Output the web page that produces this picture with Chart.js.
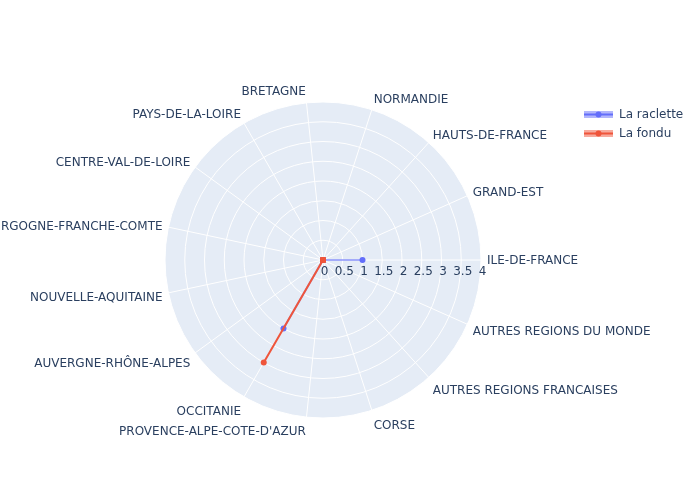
<!DOCTYPE html>
<html>
<head>
<meta charset="utf-8">
<script src="https://cdn.jsdelivr.net/npm/chart.js@4/dist/chart.umd.min.js"></script>
<style>
  html, body { margin: 0; padding: 0; background: #ffffff; }
  #wrap { width: 700px; height: 500px; }
</style>
</head>
<body>
<div id="wrap"><canvas id="c" width="700" height="500"></canvas></div>
<script>
// ---- data ----
const categories = [
  'ILE-DE-FRANCE', 'GRAND-EST', 'HAUTS-DE-FRANCE', 'NORMANDIE', 'BRETAGNE',
  'PAYS-DE-LA-LOIRE', 'CENTRE-VAL-DE-LOIRE', 'BOURGOGNE-FRANCHE-COMTE',
  'NOUVELLE-AQUITAINE', 'AUVERGNE-RHÔNE-ALPES', 'OCCITANIE',
  "PROVENCE-ALPE-COTE-D'AZUR", 'CORSE', 'AUTRES REGIONS FRANCAISES',
  'AUTRES REGIONS DU MONDE'
];
const seriesNames = ['La raclette', 'La fondu'];
const raclette = [1, 0, 0, 0, 0, 0, 0, 0, 0, 0, 2, 0, 0, 0, 0];
const fondu    = [0, 0, 0, 0, 0, 0, 0, 0, 0, 0, 3, 0, 0, 0, 0];
const radialTicks = [0, 0.5, 1, 1.5, 2, 2.5, 3, 3.5, 4];

// Plotly draws categories counter-clockwise from east; Chart.js goes clockwise,
// so the order is reversed (keeping the first category at east).
const order = [0].concat(categories.map((_, i) => i).slice(1).reverse());
const chartLabels = order.map(i => categories[i]);
const racletteData = order.map(i => raclette[i]);
const fonduData = order.map(i => fondu[i]);

const FONT = '"DejaVu Sans", Verdana, sans-serif';
const TEXT = '#2a3f5f';
const BLUE = '#636efa';
const RED = '#EF553B';
const PAD = 6;

const overlay = {
  id: 'overlay',
  afterDraw(chart) {
    const s = chart.scales.r;
    const ctx = chart.ctx;
    ctx.save();
    ctx.font = '12px ' + FONT;
    ctx.fillStyle = TEXT;
    // angular (category) labels, placed like plotly
    chart.data.labels.forEach((lab, i) => {
      const p = s.getPointPosition(i, s.drawingArea);
      const a = s.getIndexAngle(i) - Math.PI / 2;
      const c = Math.cos(a), sn = -Math.sin(a);
      const ff = sn > 0 ? 0.2 : 1;
      const x = p.x + c * PAD;
      const y = p.y - sn * (PAD + 12 * ff) + Math.abs(c) * 12 * 0.35;
      ctx.textAlign = Math.abs(c) < 0.1 ? 'center' : (c > 0 ? 'left' : 'right');
      ctx.textBaseline = 'alphabetic';
      ctx.fillText(lab, x, y);
    });
    // radial tick labels along the first (east) spoke
    ctx.textAlign = 'center';
    ctx.textBaseline = 'middle';
    radialTicks.forEach(v => {
      const p = s.getPointPositionForValue(0, v);
      ctx.fillText(String(v), p.x + 1.5, p.y + 12);
    });
    // legend
    const items = [
      {name: seriesNames[0], color: BLUE, band: 'rgba(99,110,250,0.5)'},
      {name: seriesNames[1], color: RED, band: 'rgba(239,85,59,0.5)'}
    ];
    items.forEach((it, k) => {
      const cy = 114.5 + k * 19;
      ctx.fillStyle = it.band;
      ctx.fillRect(584, cy - 3.5, 29, 7);
      ctx.strokeStyle = it.color;
      ctx.lineWidth = 2;
      ctx.beginPath();
      ctx.moveTo(584, cy);
      ctx.lineTo(613, cy);
      ctx.stroke();
      ctx.fillStyle = it.color;
      ctx.beginPath();
      ctx.arc(598.5, cy, 3, 0, Math.PI * 2);
      ctx.fill();
      ctx.fillStyle = TEXT;
      ctx.textAlign = 'left';
      ctx.textBaseline = 'middle';
      ctx.fillText(it.name, 619, cy);
    });
    ctx.restore();
  }
};

new Chart(document.getElementById('c'), {
  type: 'radar',
  data: {
    labels: chartLabels,
    datasets: [
      {
        label: seriesNames[0],
        data: racletteData,
        borderColor: 'rgba(99,110,250,0.55)',
        borderWidth: 2,
        pointBackgroundColor: BLUE,
        pointBorderColor: BLUE,
        pointBorderWidth: 0,
        pointRadius: 3,
        fill: false,
        tension: 0,
        order: 1
      },
      {
        label: seriesNames[1],
        data: fonduData,
        borderColor: RED,
        borderWidth: 2,
        pointBackgroundColor: RED,
        pointBorderColor: RED,
        pointBorderWidth: 0,
        pointRadius: 3,
        fill: false,
        tension: 0,
        order: 0
      }
    ]
  },
  options: {
    responsive: false,
    animation: false,
    devicePixelRatio: 1,
    layout: { padding: { left: 165, top: 102, right: 218, bottom: 82 } },
    plugins: { legend: { display: false }, tooltip: { enabled: false } },
    scales: {
      r: {
        min: 0,
        max: 4,
        startAngle: 90,
        backgroundColor: '#E5ECF6',
        ticks: { display: false, stepSize: 0.5 },
        grid: { circular: true, color: '#ffffff', lineWidth: 1 },
        angleLines: { color: '#ffffff', lineWidth: 1 },
        pointLabels: { display: false }
      }
    }
  },
  plugins: [overlay]
});
</script>
</body>
</html>
